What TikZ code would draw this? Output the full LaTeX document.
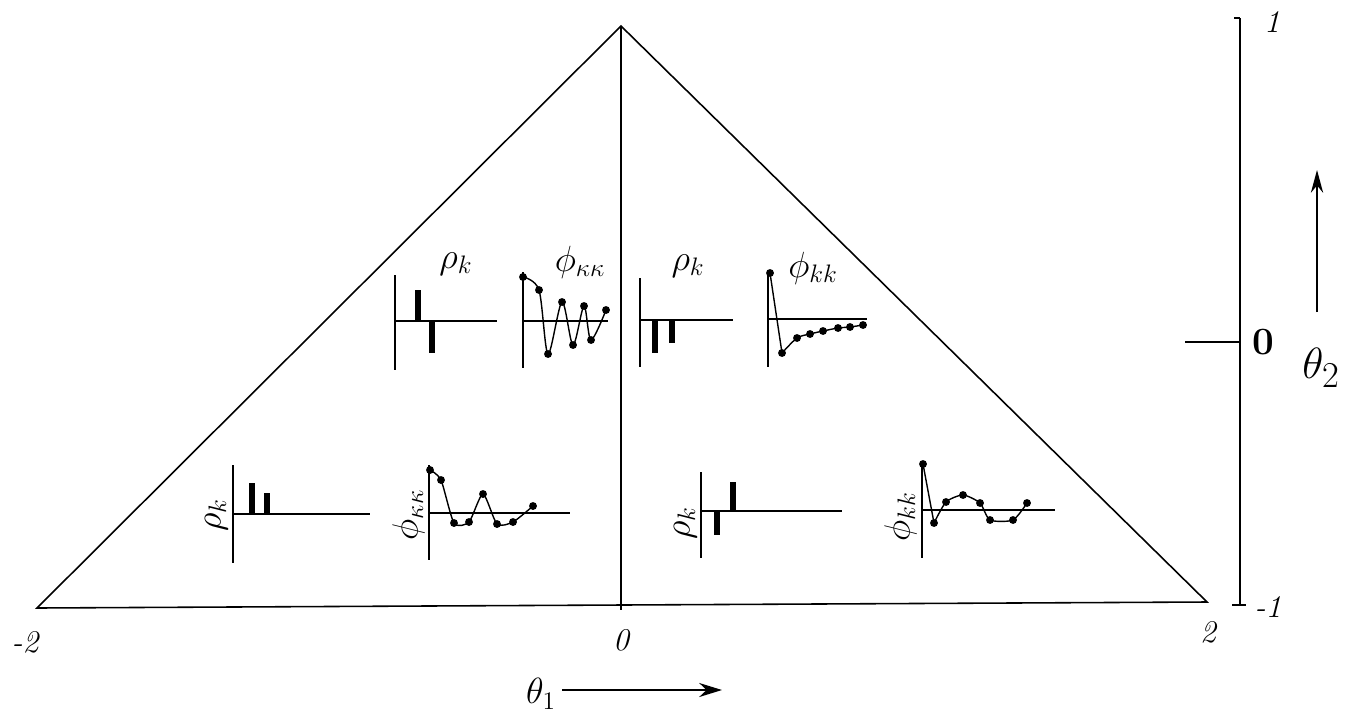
\documentclass[tikz,border=0pt]{standalone}
\usetikzlibrary{arrows.meta}
\begin{document}
\begin{tikzpicture}[x=0.02cm,y=-0.02cm,
  frame/.style={line width=0.9pt},
  axisline/.style={line width=0.8pt},
  bar/.style={line width=3.2pt},
  curve/.style={line width=0.8pt},
  dot/.style={circle,fill,inner sep=0pt,minimum size=4.5pt},
  lab/.style={font=\fontsize{22}{24}\selectfont,inner sep=0pt},
  rlab/.style={lab,rotate=90,anchor=south},
  tick/.style={font=\fontsize{18}{20}\selectfont\itshape,inner sep=0pt}]
\useasboundingbox (0,0) rectangle (1348,717);
% triangle
\coordinate (L) at (37,608);
\coordinate (T) at (621,26);
\coordinate (R) at (1207,602);
\coordinate (B) at (621,610);
\draw[frame] (L) -- (T) -- (R) -- cycle;
\draw[frame] (T) -- (B);
% right axis
\coordinate (ax1) at (1240,18);
\coordinate (ax2) at (1240,605);
\draw[frame] (ax1) -- (ax2);
\draw[frame] (1234,18) -- (ax1);
\draw[frame] (1232,605) -- (1246,605);
\coordinate (axm) at (1240,342);
\draw[line width=1.3pt] (1185,342) -- (axm);
\node[tick] (one) at (1272,22) {1};
\node[font=\fontsize{22}{24}\selectfont\bfseries,inner sep=0pt] (zero) at (1263,342) {0};
\node[tick] (mone) at (1268,607) {-1};
\coordinate (a2s) at (1317,312);
\coordinate (a2e) at (1317,170);
\draw[line width=1pt,-{Stealth[length=13pt,width=7pt]}] (a2s) -- (a2e);
\node[font=\fontsize{29}{31}\selectfont,inner sep=0pt] (th2) at (1321,368) {$\theta_2$};
% bottom labels
\node[tick] (xm2) at (25,642) {-2};
\node[tick] (x0) at (621,640) {0};
\node[tick] (x2) at (1208,632) {2};
\node[font=\fontsize{20}{22}\selectfont,inner sep=0pt] (th1) at (541,694) {$\theta_1$};
\coordinate (a1s) at (562,690);
\coordinate (a1e) at (722,690);
\draw[line width=1pt,-{Stealth[length=13pt,width=8pt]}] (a1s) -- (a1e);

% ---- upper-left rho_k
\draw[axisline] (395,275) -- (395,370);
\draw[line width=1.6pt] (395,321) -- (497,321);
\draw[bar] (418,321) -- (418,290);
\draw[bar] (432,321) -- (432,353);
\node[lab] (r1) at (456,264) {$\rho_k$};
% ---- upper-left phi_kk
\draw[axisline] (523,272) -- (523,368);
\draw[axisline] (523,321) -- (608,321);
\draw[curve] plot[smooth,tension=0.5] coordinates {(523,277) (539,290) (548,354) (562,302) (573,345) (584,306) (591,340) (606,310)};
\foreach \p in {(523,277),(539,290),(548,354),(562,302),(573,345),(584,306),(591,340),(606,310)}
  \node[dot] at \p {};
\node[lab] (f1) at (580,262) {$\phi_{\kappa\kappa}$};
% ---- upper-right rho_k
\draw[axisline] (640,278) -- (640,367);
\draw[axisline] (640,320) -- (733,320);
\draw[bar] (655,320) -- (655,353);
\draw[bar] (672,320) -- (672,343);
\node[lab] (r2) at (688,266) {$\rho_k$};
% ---- upper-right phi_kk
\draw[axisline] (768,270) -- (768,367);
\draw[axisline] (768,319) -- (867,319);
\draw[curve] (770,273) -- (782,353);
\draw[curve] plot[smooth,tension=0.5] coordinates {(782,353) (797,338) (810,334) (823,331) (838,328) (850,327) (863,325)};
\foreach \p in {(770,273),(782,353),(797,338),(810,334),(823,331),(838,328),(850,327),(863,325)}
  \node[dot] at \p {};
\node[lab] (f2) at (813,268) {$\phi_{kk}$};
% ---- lower-left rho_k
\draw[axisline] (233,465) -- (233,563);
\draw[axisline] (233,514) -- (370,514);
\draw[bar] (252,514) -- (252,483);
\draw[bar] (267,514) -- (267,493);
\node[rlab] (r3) at (228,515) {$\rho_k$};
% ---- lower-left phi_kk
\draw[axisline] (429,465) -- (429,560);
\draw[axisline] (429,513) -- (570,513);
\draw[curve] plot[smooth,tension=0.4] coordinates {(430,470) (441,480) (454,523) (469,522) (483,494) (497,524) (513,522) (533,506)};
\foreach \p in {(430,470),(441,480),(454,523),(469,522),(483,494),(497,524),(513,522),(533,506)}
  \node[dot] at \p {};
\node[rlab] (f3) at (425,515) {$\phi_{\kappa\kappa}$};
% ---- lower-right rho_k
\draw[axisline] (701,472) -- (701,558);
\draw[axisline] (701,511) -- (842,511);
\draw[bar] (717,511) -- (717,535);
\draw[bar] (733,511) -- (733,482);
\node[rlab] (r4) at (697,523) {$\rho_k$};
% ---- lower-right phi_kk
\draw[axisline] (922,463) -- (922,558);
\draw[axisline] (922,510) -- (1055,510);
\draw[curve] (923,464) -- (934,523);
\draw[curve] plot[smooth,tension=0.4] coordinates {(934,523) (946,502) (963,495) (980,503) (990,520) (1013,520) (1027,503)};
\foreach \p in {(923,464),(934,523),(946,502),(963,495),(980,503),(990,520),(1013,520),(1027,503)}
  \node[dot] at \p {};
\node[rlab] (f4) at (917,517) {$\phi_{kk}$};
\end{tikzpicture}
\end{document}
